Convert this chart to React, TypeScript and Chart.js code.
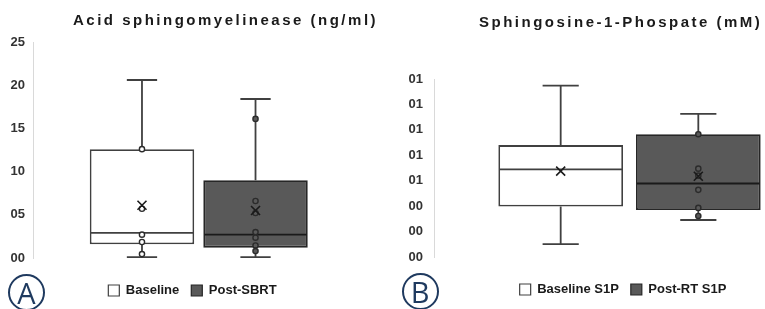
import React, { useEffect, useRef } from 'react';
import { Chart, registerables } from 'chart.js';

Chart.register(...registerables);

// ---------- Panel A data: Acid sphingomyelinease (ng/ml) ----------
const panelACategories = ['Baseline', 'Post-SBRT'];
const panelAMin = [0.1, 0.1];
const panelAQ1 = [1.6, 1.2];
const panelAMedian = [2.9, 2.7];
const panelAQ3 = [12.6, 9.0];
const panelAMax = [20.6, 18.4];
const panelAMean = [6.1, 5.5];
const panelAPoints = [
  [12.6, 5.7, 2.7, 1.85, 0.45],
  [16.1, 6.6, 5.2, 3.0, 2.35, 1.45, 0.8],
];
const panelATickLabels = ['00', '05', '10', '15', '20', '25'];

// ---------- Panel B data: Sphingosine-1-Phospate (mM) ----------
const panelBCategories = ['Baseline S1P', 'Post-RT S1P'];
const panelBMin = [0.00102, 0.00291];
const panelBQ1 = [0.00397, 0.0037];
const panelBMedian = [0.00689, 0.00578];
const panelBQ3 = [0.0088, 0.00966];
const panelBMax = [0.01348, 0.01126];
const panelBMean = [0.00675, 0.00635];
const panelBPoints = [
  [] as number[],
  [0.00966, 0.00695, 0.0064, 0.00528, 0.00386, 0.00323],
];
const panelBTickLabels = ['00', '00', '00', '01', '01', '01', '01', '01'];

const FILLS = ['#ffffff', '#595959'];
const BORDERS = ['#404040', '#262626'];
const MEDIANS = ['#404040', '#1a1a1a'];
const POINT_FILLS = ['#ffffff', '#595959'];
const NAVY = '#1f3a5f';
const FONT = "'Liberation Sans', Arial, sans-serif";

const boxPlotExtras = {
  id: 'boxPlotExtras',
  afterDatasetsDraw(chart: any) {
    const ctx = chart.ctx;
    const yScale = chart.scales.y;
    const yv = (v: number) => yScale.getPixelForValue(v);
    chart.data.datasets.forEach((ds: any, i: number) => {
      const meta = chart.getDatasetMeta(i);
      const bar = meta.data[0];
      if (!bar) return;
      const st = ds.stats;
      const { x, width } = bar.getProps(['x', 'width'], true);
      const left = x - width / 2;
      const right = x + width / 2;
      const cap = width * 0.29;
      ctx.save();
      ctx.lineCap = 'butt';
      // whiskers
      ctx.strokeStyle = '#404040';
      ctx.lineWidth = 1.8;
      ctx.beginPath();
      ctx.moveTo(x, yv(st.q3));
      ctx.lineTo(x, yv(st.max));
      ctx.moveTo(x - cap / 2, yv(st.max));
      ctx.lineTo(x + cap / 2, yv(st.max));
      ctx.moveTo(x, yv(st.q1));
      ctx.lineTo(x, yv(st.min));
      ctx.moveTo(x - cap / 2, yv(st.min));
      ctx.lineTo(x + cap / 2, yv(st.min));
      ctx.stroke();
      // median
      ctx.strokeStyle = MEDIANS[i];
      ctx.lineWidth = 1.8;
      ctx.beginPath();
      ctx.moveTo(left + 1, yv(st.median));
      ctx.lineTo(right - 1, yv(st.median));
      ctx.stroke();
      // points
      ctx.lineWidth = 1.4;
      ctx.strokeStyle = '#2b2b2b';
      ctx.fillStyle = POINT_FILLS[i];
      st.points.forEach((p: number) => {
        ctx.beginPath();
        ctx.arc(x, yv(p), 2.6, 0, Math.PI * 2);
        ctx.fill();
        ctx.stroke();
      });
      // mean X
      const my = yv(st.mean);
      const s = 4.5;
      ctx.strokeStyle = '#1a1a1a';
      ctx.lineWidth = 1.6;
      ctx.beginPath();
      ctx.moveTo(x - s, my - s);
      ctx.lineTo(x + s, my + s);
      ctx.moveTo(x + s, my - s);
      ctx.lineTo(x - s, my + s);
      ctx.stroke();
      ctx.restore();
    });
  },
};

function buildConfig(p: {
  categories: string[];
  min: number[];
  q1: number[];
  median: number[];
  q3: number[];
  max: number[];
  mean: number[];
  points: number[][];
  tickLabels: string[];
  yMax: number;
  yStep: number;
  top: number;
  rightGap: number;
  bottom: number;
  axisWidth: number;
  tickPad: number;
  catPct: number;
  barPct: number;
}) {
  const datasets = p.categories.map((label, i) => ({
    label,
    data: [[p.q1[i], p.q3[i]]],
    backgroundColor: FILLS[i],
    borderColor: BORDERS[i],
    borderWidth: 1.8,
    borderSkipped: false,
    categoryPercentage: p.catPct,
    barPercentage: p.barPct,
    stats: {
      min: p.min[i],
      q1: p.q1[i],
      median: p.median[i],
      q3: p.q3[i],
      max: p.max[i],
      mean: p.mean[i],
      points: p.points[i],
    },
  }));
  return {
    type: 'bar',
    data: { labels: [''], datasets },
    options: {
      responsive: false,
      animation: false,
      events: [],
      layout: { padding: { top: p.top, right: 0, bottom: p.bottom, left: 0 } },
      scales: {
        x: {
          display: true,
          grid: { display: false, drawTicks: false },
          border: { display: false },
          ticks: { display: false },
          afterFit: (scale: any) => {
            scale.height = 14;
          },
        },
        y: {
          min: 0,
          max: p.yMax,
          grid: { display: false, drawTicks: false },
          border: { display: true, color: '#d9d9d9', width: 1 },
          ticks: {
            stepSize: p.yStep,
            padding: p.tickPad,
            color: '#333333',
            font: { family: FONT, size: 13, weight: 'bold' },
            callback: (_v: any, idx: number) => p.tickLabels[idx],
          },
          afterFit: (scale: any) => {
            scale.width = p.axisWidth;
          },
        },
        gapRight: {
          type: 'linear',
          position: 'right',
          display: true,
          grid: { display: false, drawTicks: false },
          border: { display: false },
          ticks: { display: false },
          afterFit: (scale: any) => {
            scale.width = p.rightGap;
          },
        },
      },
      plugins: {
        tooltip: { enabled: false },
        title: { display: false },
        legend: {
          display: true,
          position: 'bottom',
          labels: {
            boxWidth: 11,
            boxHeight: 11,
            padding: 12,
            color: '#1a1a1a',
            font: { family: FONT, size: 13, weight: 'bold' },
            generateLabels: (chart: any) =>
              Chart.defaults.plugins.legend.labels
                .generateLabels(chart)
                .map((l: any) => ({ ...l, lineWidth: 1.2 })),
          },
        },
      },
    },
    plugins: [boxPlotExtras],
  };
}

function ChartCanvas({ config, width, height, left }: any) {
  const ref = useRef<HTMLCanvasElement | null>(null);
  useEffect(() => {
    if (!ref.current) return;
    const chart = new Chart(ref.current, config as any);
    return () => chart.destroy();
  }, []);
  return (
    <canvas
      ref={ref}
      width={width}
      height={height}
      style={{ position: 'absolute', left, top: 0, width, height }}
    />
  );
}

const configA = buildConfig({
  categories: panelACategories,
  min: panelAMin,
  q1: panelAQ1,
  median: panelAMedian,
  q3: panelAQ3,
  max: panelAMax,
  mean: panelAMean,
  points: panelAPoints,
  tickLabels: panelATickLabels,
  yMax: 25,
  yStep: 5,
  top: 42,
  rightGap: 20.5,
  bottom: 2,
  axisWidth: 33,
  tickPad: 8,
  catPct: 0.685,
  barPct: 0.92,
});

const configB = buildConfig({
  categories: panelBCategories,
  min: panelBMin,
  q1: panelBQ1,
  median: panelBMedian,
  q3: panelBQ3,
  max: panelBMax,
  mean: panelBMean,
  points: panelBPoints,
  tickLabels: panelBTickLabels,
  yMax: 0.014,
  yStep: 0.002,
  top: 79,
  rightGap: 36,
  bottom: 3,
  axisWidth: 49,
  tickPad: 11,
  catPct: 0.704,
  barPct: 0.906,
});

const titleStyle: React.CSSProperties = {
  position: 'absolute',
  fontFamily: FONT,
  fontWeight: 'bold',
  fontSize: 15,
  letterSpacing: 2.5,
  lineHeight: '17px',
  whiteSpace: 'nowrap',
  color: '#1a1a1a',
};

const badgeStyle = (cx: number, cy: number): React.CSSProperties => ({
  position: 'absolute',
  left: cx - 18.5,
  top: cy - 18.5,
  width: 37,
  height: 37,
  boxSizing: 'border-box',
  border: `2px solid ${NAVY}`,
  borderRadius: '50%',
  color: NAVY,
  fontFamily: "'Open Sans', 'Noto Sans', sans-serif",
  fontSize: 29,
  lineHeight: '33px',
  textAlign: 'center',
});

export default function App() {
  return (
    <div
      style={{
        position: 'absolute',
        left: 0,
        top: 0,
        width: 765,
        height: 309,
        overflow: 'hidden',
        background: '#ffffff',
      }}
    >
      <ChartCanvas config={configA} width={385} height={309} left={0} />
      <ChartCanvas config={configB} width={476} height={309} left={385} />
      <div style={{ ...titleStyle, left: 73, top: 11 }}>Acid sphingomyelinease (ng/ml)</div>
      <div style={{ ...titleStyle, left: 479, top: 13 }}>Sphingosine-1-Phospate (mM)</div>
      <div style={badgeStyle(26.5, 292)}>A</div>
      <div style={badgeStyle(420, 291)}>B</div>
    </div>
  );
}
